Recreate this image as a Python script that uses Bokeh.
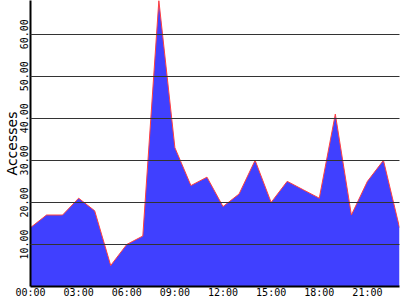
from bokeh.plotting import figure
from bokeh.embed import file_html
from bokeh.resources import INLINE
from bokeh.models import FixedTicker, Range1d

hours = list(range(24))
accesses = [14, 17, 17, 21, 18, 5, 10, 12, 68, 33, 24, 26, 19, 22, 30, 20, 25, 23, 21, 41, 17, 25, 30, 14]
x_ticks = [0, 3, 6, 9, 12, 15, 18, 21]
x_labels = ["00:00", "03:00", "06:00", "09:00", "12:00", "15:00", "18:00", "21:00"]
y_ticks = [10, 20, 30, 40, 50, 60]
y_labels = ["10.00", "20.00", "30.00", "40.00", "50.00", "60.00"]

p = figure(width=400, height=300, output_backend="svg", toolbar_location=None,
           min_border_left=0, min_border_right=1, min_border_top=0, min_border_bottom=0,
           x_range=Range1d(0, 23), y_range=Range1d(0, 68))
p.outline_line_color = None

p.varea(x=hours, y1=0, y2=accesses, fill_color="#4040ff")
p.line(x=hours, y=accesses, line_color="#ff4040", line_width=1)

p.xgrid.visible = False
p.ygrid.ticker = FixedTicker(ticks=y_ticks)
p.ygrid.grid_line_color = "#333333"
p.ygrid.grid_line_width = 1
p.ygrid.level = "overlay"

p.xaxis.ticker = FixedTicker(ticks=x_ticks)
p.xaxis.major_label_overrides = {t: l for t, l in zip(x_ticks, x_labels)}
p.yaxis.ticker = FixedTicker(ticks=y_ticks)
p.yaxis.major_label_overrides = {t: l for t, l in zip(y_ticks, y_labels)}

for ax in (p.xaxis[0], p.yaxis[0]):
    ax.major_tick_out = 0
    ax.major_tick_in = 0
    ax.minor_tick_out = 0
    ax.minor_tick_in = 0
    ax.axis_line_color = "black"
    ax.axis_line_width = 2
    ax.major_label_text_font = "DejaVu Sans Mono"
    ax.major_label_text_font_size = "10px"
    ax.major_label_text_color = "black"

p.xaxis.major_label_standoff = 0
p.yaxis.major_label_standoff = 2
p.yaxis.major_label_orientation = "vertical"
p.yaxis.axis_label = "Accesses"
p.yaxis.axis_label_text_font = "DejaVu Sans"
p.yaxis.axis_label_text_font_style = "normal"
p.yaxis.axis_label_text_font_size = "14px"
p.yaxis.axis_label_text_color = "black"
p.yaxis.axis_label_standoff = -2

open("out.html", "w").write(file_html(p, INLINE))
